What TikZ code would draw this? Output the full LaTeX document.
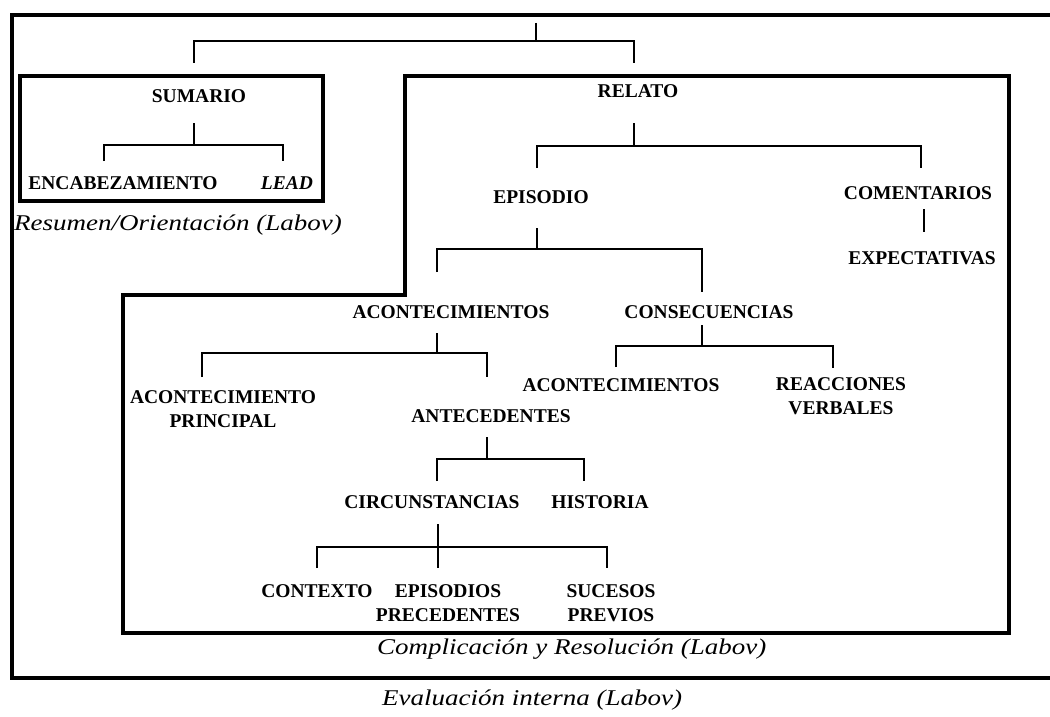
\documentclass[tikz,border=0pt]{standalone}
\usepackage{fontspec}
\setmainfont{Liberation Serif}
\newfontfamily\capfont[FakeStretch=1.2]{Liberation Serif}
\begin{document}
\begin{tikzpicture}[x=1pt,y=-1pt,
  lbl/.style={font=\fontsize{19.5}{24}\selectfont\bfseries, inner sep=0pt, align=center, anchor=center},
  captxt/.style={font=\fontsize{22.5}{27}\selectfont\capfont\itshape, inner sep=0pt, anchor=base west},
  boxframe/.style={line width=4pt, line join=miter},
  conn/.style={line width=1.5pt}]
\useasboundingbox (0,0) rectangle (1050,717);
% frames
\draw[boxframe] (1060,15) -- (12,15) -- (12,678) -- (1060,678);
\draw[boxframe] (20,76) rectangle (323,201);
\draw[boxframe] (405,76) -- (1009,76) -- (1009,633) -- (123,633) -- (123,295) -- (405,295) -- cycle;
% labels
\node[lbl] (sum) at (199,96) {SUMARIO};
\node[lbl] (enc) at (123,183) {ENCABEZAMIENTO};
\node[lbl,font=\fontsize{19.5}{24}\selectfont\bfseries\itshape] (lead) at (287,183) {LEAD};
\node[lbl] (rel) at (638,91) {RELATO};
\node[lbl] (epi) at (541,197) {EPISODIO};
\node[lbl] (com) at (918,193) {COMENTARIOS};
\node[lbl] (expe) at (922,258) {EXPECTATIVAS};
\node[lbl] (aco) at (451,312) {ACONTECIMIENTOS};
\node[lbl] (con) at (709,312) {CONSECUENCIAS};
\node[lbl] (acp) at (223,409) {ACONTECIMIENTO\\PRINCIPAL};
\node[lbl] (ant) at (491,416) {ANTECEDENTES};
\node[lbl] (acb) at (621,385) {ACONTECIMIENTOS};
\node[lbl] (rea) at (841,396) {REACCIONES\\VERBALES};
\node[lbl] (cir) at (432,502) {CIRCUNSTANCIAS};
\node[lbl] (his) at (600,502) {HISTORIA};
\node[lbl] (ctx) at (317,591) {CONTEXTO};
\node[lbl] (epp) at (448,603) {EPISODIOS\\PRECEDENTES};
\node[lbl] (suc) at (611,603) {SUCESOS\\PREVIOS};
% captions
\node[captxt] (capres) at (14,230) {Resumen/Orientación (Labov)};
\node[captxt] (capcom) at (377,654) {Complicación y Resolución (Labov)};
\node[captxt] (capeva) at (382,705) {Evaluación interna (Labov)};
% connectors
\draw[conn] (536,23) -- (536,41);
\draw[conn] (194,63) -- (194,41) -- (634,41) -- (634,63);
\draw[conn] (194,123) -- (194,145);
\draw[conn] (104,161) -- (104,145) -- (283,145) -- (283,161);
\draw[conn] (634,123) -- (634,146);
\draw[conn] (537,168) -- (537,146) -- (921,146) -- (921,168);
\draw[conn] (924,209) -- (924,232);
\draw[conn] (537,228) -- (537,249);
\draw[conn] (437,272) -- (437,249) -- (702,249) -- (702,292);
\draw[conn] (437,333) -- (437,353);
\draw[conn] (202,377) -- (202,353) -- (487,353) -- (487,377);
\draw[conn] (702,325) -- (702,346);
\draw[conn] (616,367) -- (616,346) -- (833,346) -- (833,368);
\draw[conn] (487,437) -- (487,459);
\draw[conn] (437,481) -- (437,459) -- (584,459) -- (584,481);
\draw[conn] (438,524) -- (438,568);
\draw[conn] (317,568) -- (317,547) -- (607,547) -- (607,568);
\end{tikzpicture}
\end{document}
